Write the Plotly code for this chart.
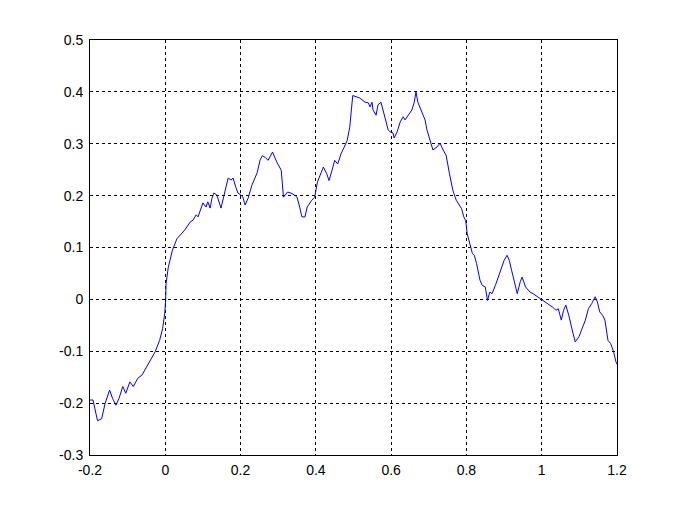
import plotly.graph_objects as go

x_vals = [-0.200, -0.192, -0.180, -0.169, -0.160, -0.148, -0.140, -0.131, -0.123, -0.113,
          -0.105, -0.094, -0.085, -0.073, -0.062, -0.044, -0.027, -0.015, -0.007, -0.0015,
          0.001, 0.002, 0.008, 0.019, 0.031,
          0.052, 0.066, 0.074, 0.082, 0.087, 0.092, 0.100, 0.108, 0.113, 0.119,
          0.124, 0.129, 0.137, 0.148, 0.153, 0.167, 0.175, 0.180, 0.188, 0.193,
          0.201, 0.206, 0.212, 0.220, 0.230, 0.244, 0.252, 0.258, 0.265, 0.273, 0.285,
          0.296, 0.308, 0.314, 0.325, 0.337, 0.345, 0.350, 0.357, 0.363, 0.371,
          0.377, 0.389, 0.397, 0.404, 0.412, 0.420, 0.429, 0.435, 0.443, 0.450,
          0.458, 0.467, 0.475, 0.483, 0.490, 0.498,
          0.517, 0.531, 0.539, 0.544, 0.549, 0.552, 0.560, 0.565, 0.573, 0.578,
          0.584, 0.592, 0.597, 0.605, 0.608, 0.616, 0.624, 0.632, 0.637, 0.645,
          0.655, 0.661, 0.666, 0.671, 0.682, 0.690, 0.695, 0.703, 0.711, 0.722,
          0.730, 0.738,
          0.746, 0.755, 0.764, 0.773,
          0.781, 0.787, 0.793, 0.798, 0.802, 0.810, 0.816, 0.821, 0.827, 0.836,
          0.842, 0.850, 0.856, 0.862, 0.868, 0.877, 0.885, 0.893, 0.900, 0.908,
          0.914, 0.920, 0.928, 0.935, 0.943, 0.948, 0.957, 0.963, 0.969, 0.977,
          0.989, 1.000, 1.011, 1.020, 1.029, 1.038, 1.044, 1.052, 1.058, 1.064,
          1.072, 1.081, 1.089, 1.099, 1.108, 1.116, 1.124, 1.133, 1.142, 1.148,
          1.154, 1.162, 1.168, 1.176, 1.183, 1.191, 1.197, 1.200]

y_vals = [-0.194, -0.194, -0.234, -0.230, -0.201, -0.175, -0.191, -0.204, -0.191, -0.168,
          -0.181, -0.159, -0.168, -0.152, -0.146, -0.124, -0.101, -0.079, -0.056, -0.027,
          -0.002, 0.030, 0.062, 0.095, 0.117,
          0.134, 0.149, 0.153, 0.163, 0.159, 0.170, 0.186, 0.178, 0.188, 0.176,
          0.195, 0.205, 0.201, 0.176, 0.192, 0.234, 0.230, 0.234, 0.215, 0.205,
          0.201, 0.197, 0.182, 0.195, 0.220, 0.244, 0.269, 0.277, 0.274, 0.268, 0.284,
          0.265, 0.249, 0.197, 0.207, 0.204, 0.200, 0.197, 0.178, 0.159, 0.159,
          0.178, 0.191, 0.197, 0.226, 0.242, 0.255, 0.242, 0.229, 0.249, 0.268,
          0.261, 0.281, 0.293, 0.306, 0.332, 0.393,
          0.388, 0.380, 0.379, 0.371, 0.380, 0.365, 0.355, 0.375, 0.380, 0.365,
          0.350, 0.327, 0.323, 0.321, 0.311, 0.323, 0.342, 0.352, 0.346, 0.355,
          0.365, 0.379, 0.400, 0.380, 0.361, 0.346, 0.327, 0.307, 0.288, 0.294,
          0.301, 0.288,
          0.278, 0.242, 0.210, 0.191,
          0.181, 0.175, 0.159, 0.152, 0.127, 0.101, 0.088, 0.085, 0.069, 0.037,
          0.027, 0.024, -0.002, 0.014, 0.011, 0.027, 0.043, 0.059, 0.075, 0.085,
          0.075, 0.056, 0.030, 0.011, 0.034, 0.043, 0.024, 0.018, 0.014, 0.011,
          0.005, 0.000, -0.007, -0.010, -0.015, -0.021, -0.018, -0.040, -0.021, -0.011,
          -0.031, -0.059, -0.082, -0.072, -0.056, -0.040, -0.018, -0.008, 0.005, -0.005,
          -0.024, -0.031, -0.040, -0.079, -0.085, -0.101, -0.120, -0.125]

x_ticks = [-0.2, 0, 0.2, 0.4, 0.6, 0.8, 1, 1.2]
x_tick_labels = ["-0.2", "0", "0.2", "0.4", "0.6", "0.8", "1", "1.2"]
y_ticks = [-0.3, -0.2, -0.1, 0, 0.1, 0.2, 0.3, 0.4, 0.5]
y_tick_labels = ["-0.3", "-0.2", "-0.1", "0", "0.1", "0.2", "0.3", "0.4", "0.5"]

fig = go.Figure()
fig.add_trace(go.Scatter(x=x_vals, y=y_vals, mode="lines",
                         line=dict(color="#0000ff", width=1), showlegend=False))

axis_common = dict(
    showgrid=True, gridcolor="black", gridwidth=1, griddash="3px,3px",
    showline=True, linecolor="black", linewidth=1, mirror=True,
    ticks="", zeroline=False,
    tickfont=dict(family="Arial, Liberation Sans", size=14, color="black"),
)

fig.update_xaxes(range=[-0.2, 1.2], tickvals=x_ticks, ticktext=x_tick_labels, ticklabelstandoff=2, **axis_common)
fig.update_yaxes(range=[-0.3, 0.5], tickvals=y_ticks, ticktext=y_tick_labels, ticklabelstandoff=3, **axis_common)

fig.update_layout(
    width=683, height=512,
    margin=dict(l=82, r=74, t=32, b=65),
    paper_bgcolor="white", plot_bgcolor="white",
)

fig.write_html("out.html")
